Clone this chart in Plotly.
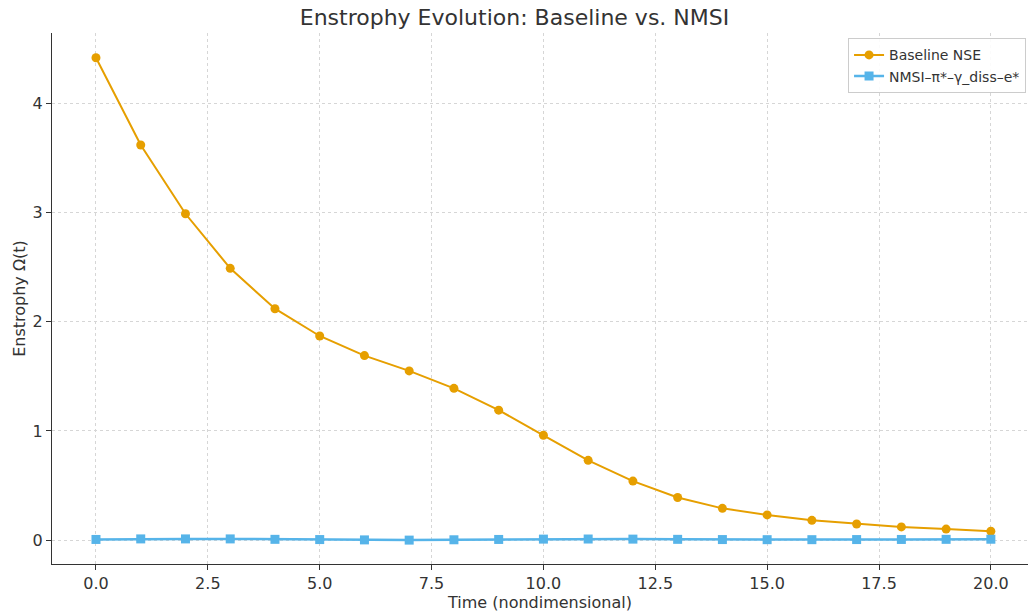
import plotly.graph_objects as go

time = list(range(21))
baseline = [4.42, 3.62, 2.99, 2.49, 2.12, 1.87, 1.69, 1.55, 1.39, 1.19, 0.96,
            0.73, 0.54, 0.39, 0.29, 0.23, 0.18, 0.147, 0.12, 0.10, 0.08]
nmsi = [0.005, 0.01, 0.01, 0.01, 0.006, 0.004, 0.001, -0.001, 0.002, 0.005, 0.008,
        0.009, 0.008, 0.006, 0.004, 0.003, 0.003, 0.004, 0.005, 0.006, 0.007]
names = ["Baseline NSE", "NMSI–π*–γ_diss–e*"]

font = "DejaVu Sans"
fig = go.Figure()
fig.add_trace(go.Scatter(x=time, y=baseline, name=names[0], mode="lines+markers",
                         line=dict(color="#E69F00", width=2),
                         marker=dict(symbol="circle", size=9, color="#E69F00")))
fig.add_trace(go.Scatter(x=time, y=nmsi, name=names[1], mode="lines+markers",
                         line=dict(color="#56B4E9", width=2.5),
                         marker=dict(symbol="square", size=9, color="#56B4E9")))

axis_common = dict(showline=True, linecolor="#333", linewidth=1.2, ticks="outside",
                   ticklen=5, tickcolor="#333", showgrid=True, gridcolor="#d6d6d6",
                   griddash="3px,3px", gridwidth=1, zeroline=False, automargin=False,
                   tickfont=dict(family=font, size=16, color="#333"),
                   mirror=False)
fig.update_layout(
    width=1029, height=613, autosize=False,
    margin=dict(l=52, r=1, t=33, b=49),
    paper_bgcolor="white", plot_bgcolor="white",
    title=dict(text="Enstrophy Evolution: Baseline vs. NMSI", x=0.5, xanchor="center",
               y=0.972, yanchor="middle", font=dict(family=font, size=22, color="#333")),
    xaxis=dict(range=[-0.983, 20.83], tickvals=[0, 2.5, 5, 7.5, 10, 12.5, 15, 17.5, 20],
               ticktext=["0.0", "2.5", "5.0", "7.5", "10.0", "12.5", "15.0", "17.5", "20.0"],
               title=dict(text="Time (nondimensional)", standoff=2,
                          font=dict(family=font, size=16, color="#333")),
               **axis_common),
    yaxis=dict(range=[-0.22, 4.647], tickvals=[0, 1, 2, 3, 4],
               title=dict(text="Enstrophy Ω(t)", standoff=2,
                          font=dict(family=font, size=16, color="#333")),
               **axis_common),
    legend=dict(x=0.998, y=0.99, xanchor="right", yanchor="top",
                bgcolor="rgba(255,255,255,0.9)", bordercolor="#ccc", borderwidth=1,
                font=dict(family=font, size=14, color="#333")),
)
fig.write_html("out.html", config={"displayModeBar": False},
               post_script="document.body.style.margin='0';document.body.style.padding='0';")
